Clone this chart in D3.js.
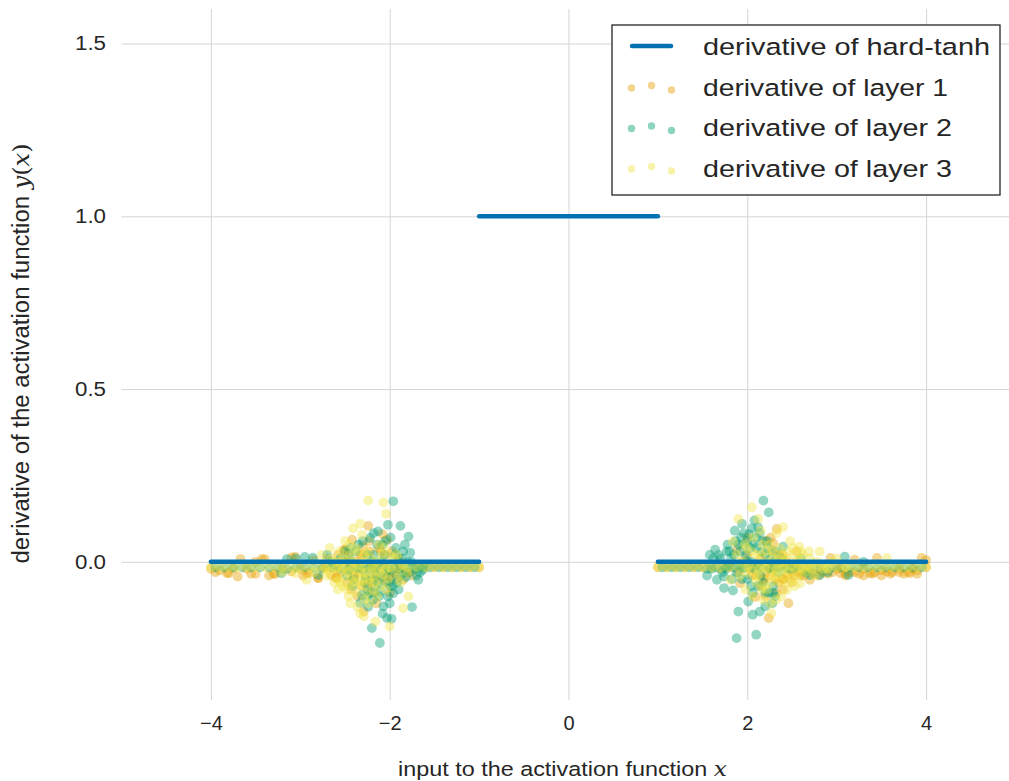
<!DOCTYPE html>
<html>
<head>
<meta charset="utf-8">
<script src="https://cdnjs.cloudflare.com/ajax/libs/d3/7.8.5/d3.min.js"></script>
<style>
  body { margin: 0; background: #fff; }
  text { fill: #262626; font-family: "Liberation Sans", Arial, sans-serif; }
</style>
</head>
<body>
<div id="chart"></div>
<script>
////////////////////////////////////////////////////////////
//////////////////////// Data //////////////////////////////
////////////////////////////////////////////////////////////

var xTicks = [-4, -2, 0, 2, 4],
    yTicks = [0.0, 0.5, 1.0, 1.5];

// hard-tanh derivative, three flat pieces
var tanhSegments = [
  [[-4, 0], [-1, 0]],
  [[-1, 1], [1, 1]],
  [[1, 0], [4, 0]]
];

// inputs sampled along the tails (layers 1 and 3)
var gridX = [-4.0,-3.9,-3.8,-3.7,-3.6,-3.5,-3.4,-3.3,-3.2,-3.1,-3.0,-2.9,-2.8,-2.7,-2.6,-2.5,
             -2.4,-2.3,-2.2,-2.1,-2.0,-1.9,-1.8,-1.7,-1.6,-1.5,-1.4,-1.3,-1.2,-1.1,-1.0,
             1.0,1.1,1.2,1.3,1.4,1.5,1.6,1.7,1.8,1.9,2.0,2.1,2.2,2.3,2.4,2.5,
             2.6,2.7,2.8,2.9,3.0,3.1,3.2,3.3,3.4,3.5,3.6,3.7,3.8,3.9,4.0];

// inputs sampled along the tails (layer 2)
var gridX2 = [-3.95,-3.85,-3.75,-3.65,-3.55,-3.45,-3.35,-3.25,-3.15,-3.05,-2.95,-2.85,-2.75,-2.65,-2.55,
              -2.45,-2.35,-2.25,-2.15,-2.05,-1.95,-1.85,-1.75,-1.65,-1.55,-1.45,-1.35,-1.25,-1.15,-1.05,
              1.05,1.15,1.25,1.35,1.45,1.55,1.65,1.75,1.85,1.95,2.05,2.15,2.25,2.35,2.45,
              2.55,2.65,2.75,2.85,2.95,3.05,3.15,3.25,3.35,3.45,3.55,3.65,3.75,3.85,3.95];

var tail1 = [-0.02,-0.025,-0.033,-0.043,-0.02,-0.035,0.008,-0.035,-0.02,0.012,-0.02,-0.033,-0.047,-0.016,-0.047,0.035,
             -0.05,0.02,-0.06,0.03,-0.04,-0.02,-0.03,-0.016,-0.016,-0.016,-0.016,-0.016,-0.016,-0.016,-0.016,
             -0.016,-0.016,-0.016,-0.016,-0.016,-0.016,-0.016,-0.02,-0.016,-0.03,0.02,-0.04,-0.05,-0.02,-0.05,-0.03,
             -0.04,-0.03,-0.02,-0.035,-0.02,-0.035,-0.03,-0.02,-0.035,-0.025,-0.035,-0.02,-0.03,-0.025,-0.016];

var tail2 = [-0.016,-0.016,-0.016,-0.016,-0.016,-0.016,-0.016,-0.016,-0.02,-0.016,-0.016,-0.016,-0.016,-0.016,-0.02,
             -0.016,-0.016,-0.016,-0.016,-0.016,-0.02,-0.016,-0.016,-0.016,-0.016,-0.016,-0.016,-0.016,-0.016,-0.016,
             -0.016,-0.016,-0.016,-0.016,-0.016,-0.02,-0.016,-0.016,-0.016,-0.016,-0.016,-0.016,-0.016,-0.016,-0.016,
             -0.016,-0.016,-0.016,-0.016,-0.016,-0.016,-0.016,-0.016,-0.016,-0.016,-0.016,-0.016,-0.016,-0.016,-0.016];

var tail3 = [-0.016,-0.016,-0.016,-0.016,-0.016,-0.016,-0.016,-0.016,-0.016,-0.016,-0.02,-0.016,-0.016,-0.016,-0.02,-0.016,
             -0.016,-0.016,-0.016,-0.016,-0.016,-0.016,-0.016,-0.016,-0.016,-0.016,-0.016,-0.016,-0.016,-0.016,-0.016,
             -0.016,-0.016,-0.016,-0.016,-0.016,-0.016,-0.016,-0.016,-0.016,-0.016,-0.016,-0.016,-0.016,-0.016,-0.016,-0.016,
             -0.016,-0.016,-0.016,-0.016,-0.016,-0.016,-0.016,-0.016,-0.016,-0.016,-0.016,-0.016,-0.016,-0.016,-0.016];

// extra samples around the transition region
var cluster1 = [[-3.67,0.008],[-3.43,0.008],[-3.82,-0.033],[-3.55,-0.035],[-3.28,-0.035],[-3.06,0.015],[-2.93,-0.033],
  [-2.80,-0.047],[-2.59,-0.047],[-2.51,0.035],[-2.58,0.02],[-2.42,0.064],[-2.24,0.104],[-2.03,0.064],[-2.15,-0.12],
  [-2.29,-0.144],[-1.85,-0.052],[-2.45,-0.02],[-2.35,-0.03],[-2.2,-0.01],[-2.1,-0.05],[-2.05,0.02],[-1.95,-0.03],
  [-2.6,-0.02],[-2.7,0.01],[-2.38,0.0],[-2.25,-0.07],[-2.12,0.04],[-1.9,0.01],[-1.75,-0.04],[-2.48,-0.06],
  [-2.0,-0.09],[-2.3,0.045],[-2.18,-0.09],
  [-2.55,-0.03],[-2.5,0.0],[-2.4,-0.04],[-2.33,0.02],[-2.27,-0.05],[-2.22,0.03],[-2.17,-0.04],[-2.07,-0.01],
  [-2.02,-0.06],[-1.97,0.03],[-1.88,-0.02],[-1.8,-0.03],[-2.65,-0.04],[-2.75,-0.02],[-2.85,0.005],[-2.97,-0.04],
  [-3.1,-0.028],[-3.35,-0.04],[-3.5,0.0],[-3.75,-0.02],[-3.95,-0.03],[-2.43,-0.08],[-2.36,-0.1],[-2.08,0.08],
  [-2.46,0.02],[-2.32,-0.07],[-2.23,0.06],[-2.14,-0.02],[-2.04,-0.04],[-1.93,-0.05],
  [2.33,0.095],[2.29,0.054],[1.88,0.035],[1.92,-0.062],[2.09,-0.102],[2.46,-0.12],[2.24,-0.163],[2.70,-0.052],
  [2.93,0.011],[3.20,0.006],[3.45,0.011],[3.95,0.011],[3.04,-0.033],[3.37,-0.033],[3.56,-0.028],[3.82,-0.033],
  [3.70,-0.03],[3.1,-0.04],[2.85,-0.03],[2.6,-0.03],[2.5,-0.01],[2.4,0.02],[2.2,-0.03],[2.15,0.01],[2.05,-0.04],
  [2.35,-0.06],[2.55,0.03],[2.0,0.07],[2.25,-0.01],[2.45,-0.04],[3.3,-0.04],[3.9,-0.035],[2.75,-0.035],[2.15,-0.07],
  [1.95,0.0],[2.03,-0.02],[2.1,-0.01],[2.18,-0.05],[2.27,-0.03],[2.31,-0.05],[2.38,-0.01],[2.43,0.0],[2.52,-0.04],
  [2.57,-0.02],[2.63,-0.04],[2.68,-0.02],[2.8,-0.04],[2.95,-0.03],[3.05,-0.02],[3.15,-0.03],[3.25,-0.035],
  [3.42,-0.03],[3.5,-0.04],[3.62,-0.03],[3.75,-0.035],[3.85,-0.02],[4.0,0.005],[2.2,0.06],[2.28,0.03],[2.4,-0.08],
  [2.26,0.07],[2.36,0.02],[2.41,-0.05],[2.5,-0.06],[2.32,-0.09],[2.2,-0.1]];

var cluster2 = [[-1.96,0.175],[-2.02,0.107],[-1.88,0.104],[-1.79,0.073],[-2.18,0.083],[-2.13,0.088],[-2.22,0.069],
  [-2.08,0.05],[-1.85,0.03],[-1.77,0.026],[-3.15,0.008],[-2.95,0.014],[-2.86,0.012],[-3.21,-0.033],[-2.80,-0.038],
  [-2.19,-0.11],[-2.07,-0.129],[-2.03,-0.163],[-1.98,-0.165],[-2.20,-0.192],[-2.11,-0.235],[-1.75,-0.131],
  [-2.0,-0.071],[-1.96,-0.091],[-2.31,-0.096],[-2.33,-0.119],[-2.46,-0.023],[-1.68,-0.052],[-1.63,-0.023],
  [-2.5,0.03],[-2.45,0.01],[-2.4,-0.05],[-2.3,-0.02],[-2.25,0.02],[-2.15,-0.04],[-2.1,0.0],[-2.05,-0.06],
  [-1.95,-0.02],[-1.9,0.0],[-1.85,-0.03],[-1.8,0.0],[-1.72,-0.02],[-2.25,-0.08],[-2.2,-0.05],[-2.12,-0.1],
  [-2.35,0.05],[-2.6,-0.01],[-2.7,0.02],[-1.98,-0.045],
  [-2.48,-0.04],[-2.42,-0.07],[-2.38,0.03],[-2.28,-0.06],[-2.26,-0.1],[-2.24,-0.13],[-2.2,0.0],[-2.17,-0.02],
  [-2.16,-0.07],[-2.14,0.05],[-2.1,-0.085],[-2.06,0.02],[-2.04,-0.03],[-2.02,-0.1],[-2.0,-0.12],[-1.99,0.07],
  [-1.93,0.04],[-1.92,-0.06],[-1.88,-0.04],[-1.83,0.05],[-1.82,-0.045],[-1.78,-0.03],[-1.76,0.0],[-1.7,-0.04],
  [-1.66,-0.03],[-1.62,-0.01],[-2.55,0.01],[-2.65,0.0],[-3.05,0.01],
  [-2.27,-0.04],[-2.23,-0.02],[-2.21,-0.09],[-2.18,0.02],[-2.13,-0.06],[-2.09,-0.04],[-2.05,0.06],[-2.01,-0.02],
  [-1.97,-0.07],[-1.94,0.02],[-1.9,-0.08],[-1.86,0.01],[-2.35,-0.02],[-2.44,0.04],[-2.3,0.06],[-2.08,-0.15],
  [2.18,0.177],[2.24,0.143],[2.05,0.097],[1.96,0.083],[2.14,0.083],[2.0,0.06],[1.90,0.05],[2.1,0.04],[1.64,0.035],
  [1.77,0.03],[2.40,0.044],[1.55,-0.04],[1.66,-0.052],[1.74,-0.043],[1.74,-0.076],[1.84,-0.083],[2.01,-0.115],
  [1.90,-0.144],[2.06,-0.153],[2.14,-0.144],[2.20,-0.129],[1.88,-0.221],[2.10,-0.211],[2.31,-0.10],[2.29,-0.071],
  [2.70,-0.038],[2.81,-0.038],[3.09,0.015],[3.13,-0.038],[1.7,0.01],[1.8,-0.01],[1.85,0.02],[1.95,-0.02],
  [2.0,-0.05],[2.05,0.0],[2.15,-0.04],[2.2,0.02],[2.25,-0.02],[2.3,0.0],[2.35,-0.03],[2.5,-0.02],[2.6,0.01],
  [1.6,-0.02],[2.29,-0.09],[2.12,-0.07],[1.93,0.07],
  [1.62,0.01],[1.68,0.02],[1.72,-0.03],[1.78,0.05],[1.82,0.01],[1.86,0.09],[1.88,-0.03],[1.92,0.03],[1.94,0.11],
  [1.98,0.02],[2.02,0.08],[2.04,-0.07],[2.07,0.05],[2.08,-0.02],[2.12,0.1],[2.16,0.03],[2.18,-0.06],[2.22,0.06],
  [2.24,-0.09],[2.26,0.01],[2.32,0.03],[2.38,0.01],[2.45,-0.02],[2.55,-0.01],[2.65,-0.03],[2.9,-0.03],[3.3,0.0],
  [1.58,0.02],[2.28,-0.12],
  [1.76,-0.02],[1.8,0.03],[1.83,-0.05],[1.87,0.06],[1.91,-0.01],[1.96,0.05],[2.0,0.0],[2.03,0.04],[2.06,-0.09],
  [2.1,0.07],[2.13,-0.01],[2.17,0.06],[2.2,-0.09],[2.23,0.04],[1.94,-0.05],[2.08,0.12]];

var cluster3 = [[-2.24,0.177],[-2.07,0.172],[-2.04,0.139],[-2.41,0.097],[-2.31,0.078],[-2.67,0.04],[-2.76,0.02],
  [-2.93,-0.052],[-2.70,-0.04],[-2.52,-0.071],[-2.46,-0.10],[-2.33,-0.149],[-2.29,-0.158],[-2.16,-0.173],
  [-2.0,-0.187],[-1.79,-0.10],[-1.85,-0.134],[-2.0,0.02],[-3.06,-0.033],[-2.6,-0.02],[-2.55,0.0],[-2.5,-0.04],
  [-2.45,0.02],[-2.4,-0.06],[-2.35,-0.01],[-2.3,-0.05],[-2.25,0.03],[-2.2,-0.03],[-2.15,0.0],[-2.1,-0.07],
  [-2.05,-0.02],[-1.95,0.01],[-1.9,-0.04],[-2.38,-0.09],[-2.28,-0.11],[-2.18,-0.08],[-2.45,0.05],[-2.62,-0.06],
  [-2.12,0.05],[-1.85,-0.01],
  [-2.72,-0.02],[-2.65,0.01],[-2.58,-0.05],[-2.56,0.03],[-2.53,-0.02],[-2.48,-0.08],[-2.47,-0.03],[-2.43,-0.05],
  [-2.4,0.0],[-2.37,-0.04],[-2.36,0.03],[-2.32,-0.07],[-2.3,0.0],[-2.27,-0.03],[-2.26,-0.09],[-2.22,-0.06],
  [-2.21,0.01],[-2.17,-0.04],[-2.14,-0.1],[-2.08,-0.04],[-2.06,0.04],[-2.02,-0.05],[-1.98,-0.02],[-1.92,0.02],
  [-1.88,-0.06],[-1.8,-0.03],[-2.5,0.06],[-2.33,0.11],[-2.85,-0.03],[-3.2,-0.03],
  [-2.58,-0.08],[-2.55,-0.06],[-2.52,0.01],[-2.44,-0.07],[-2.42,-0.02],[-2.39,0.04],[-2.34,-0.06],[-2.31,-0.03],
  [-2.29,0.02],[-2.24,-0.05],[-2.23,-0.12],[-2.19,-0.01],[-2.16,-0.06],[-2.11,-0.03],[-2.09,0.02],[-2.04,-0.08],
  [-2.62,0.0],[-2.68,-0.03],[-2.44,-0.12],[-2.36,-0.13],
  [2.05,0.158],[1.90,0.124],[2.12,0.124],[1.84,0.059],[2.33,0.083],[2.58,0.044],[2.81,0.03],[3.56,0.011],
  [2.27,-0.149],[2.18,-0.11],[1.81,-0.052],[2.44,-0.081],[2.59,-0.062],[1.95,0.0],[2.0,-0.03],[2.05,0.03],
  [2.1,-0.06],[2.15,0.02],[2.2,-0.02],[2.25,0.05],[2.3,-0.04],[2.35,0.01],[2.4,-0.02],[2.45,0.03],[2.5,-0.05],
  [2.55,0.0],[2.65,-0.03],[2.7,0.01],[2.9,-0.02],[3.0,0.01],[2.38,-0.1],[2.22,-0.08],[2.62,0.02],[1.98,-0.08],
  [2.48,0.06],[2.75,-0.04],
  [1.88,0.02],[1.92,-0.04],[1.97,0.05],[2.02,-0.01],[2.07,0.07],[2.08,-0.04],[2.13,-0.02],[2.17,0.05],[2.19,-0.07],
  [2.23,0.0],[2.27,-0.06],[2.28,0.03],[2.32,-0.02],[2.36,0.04],[2.37,-0.06],[2.42,0.0],[2.47,-0.03],[2.52,0.02],
  [2.53,-0.07],[2.57,-0.02],[2.6,0.03],[2.67,-0.01],[2.72,-0.02],[2.78,0.0],[2.85,-0.02],[2.95,0.0],[3.1,-0.015],
  [2.4,0.1],[2.15,0.09],[2.32,-0.11],
  [2.12,-0.04],[2.16,-0.08],[2.21,0.03],[2.25,-0.04],[2.29,0.01],[2.34,-0.04],[2.39,0.02],[2.41,-0.04],[2.44,0.01],
  [2.49,-0.01],[2.51,0.04],[2.56,-0.04],[2.62,-0.02],[2.69,0.03],[2.06,-0.1],[2.26,-0.12],[2.46,-0.06],[2.1,0.02],
  [1.99,0.04],[2.58,0.01]];

var seriesNames = ["derivative of hard-tanh", "derivative of layer 1",
                   "derivative of layer 2", "derivative of layer 3"],
    colors = ["#0072B2", "#E69F00", "#009E73", "#F0E442"];

////////////////////////////////////////////////////////////
//////////////////////// Set-Up ////////////////////////////
////////////////////////////////////////////////////////////

var width = 1009, height = 781;

var x = d3.scaleLinear().domain([-5, 5]).range([121.5, 1015.5]),
    y = d3.scaleLinear().domain([-0.4, 1.6]).range([700, 9]);

var svg = d3.select("#chart").append("svg")
    .attr("width", width)
    .attr("height", height);

////////////////////////////////////////////////////////////
//////////////////////// Grid //////////////////////////////
////////////////////////////////////////////////////////////

svg.append("g")
  .attr("transform", "translate(0," + y.range()[0] + ")")
  .call(d3.axisBottom(x).tickValues(xTicks).tickSize(-(y.range()[0] - y.range()[1]))
        .tickPadding(16).tickFormat(function(d) { return d < 0 ? "\u2212" + Math.abs(d) : d; }))
  .call(function(g) {
    g.select(".domain").remove();
    g.selectAll("line").attr("stroke", "#d5d5d5").attr("stroke-width", 1);
    g.selectAll("text").style("font-size", "20px").attr("fill", "#262626");
  });

svg.append("g")
  .attr("transform", "translate(" + x.range()[0] + ",0)")
  .call(d3.axisLeft(y).tickValues(yTicks).tickSize(-(width - x.range()[0] + 10))
        .tickPadding(15.5).tickFormat(d3.format(".1f")))
  .call(function(g) {
    g.select(".domain").remove();
    g.selectAll("line").attr("stroke", "#d5d5d5").attr("stroke-width", 1);
    g.selectAll("text").style("font-size", "19.5px").attr("fill", "#262626")
      .attr("textLength", 31).attr("lengthAdjust", "spacingAndGlyphs");
  });

////////////////////////////////////////////////////////////
//////////////////////// Points ////////////////////////////
////////////////////////////////////////////////////////////

function layerPoints(grid, tail, cluster) {
  var pts = grid.map(function(d, i) { return [d, tail[i]]; });
  return pts.concat(cluster);
}

var layers = [layerPoints(gridX, tail1, cluster1),
              layerPoints(gridX2, tail2, cluster2),
              layerPoints(gridX, tail3, cluster3)];

layers.forEach(function(pts, k) {
  svg.append("g")
    .selectAll("circle")
    .data(pts)
    .enter().append("circle")
    .attr("cx", function(d) { return x(d[0]); })
    .attr("cy", function(d) { return y(d[1]); })
    .attr("r", 4.9)
    .style("fill", colors[k + 1])
    .style("fill-opacity", 0.42);
});

////////////////////////////////////////////////////////////
//////////////////////// Line //////////////////////////////
////////////////////////////////////////////////////////////

var line = d3.line()
  .x(function(d) { return x(d[0]); })
  .y(function(d) { return y(d[1]); });

svg.append("g")
  .selectAll("path")
  .data(tanhSegments)
  .enter().append("path")
  .attr("d", line)
  .attr("fill", "none")
  .attr("stroke", colors[0])
  .attr("stroke-width", 4.5)
  .attr("stroke-linecap", "round");

////////////////////////////////////////////////////////////
//////////////////////// Labels ////////////////////////////
////////////////////////////////////////////////////////////

var xLabel = svg.append("text")
  .attr("x", 562.5)
  .attr("y", 776)
  .attr("textLength", 329)
  .attr("lengthAdjust", "spacingAndGlyphs")
  .style("font-size", "20.5px")
  .style("text-anchor", "middle");
xLabel.append("tspan").text("input to the activation function ");
xLabel.append("tspan").style("font-family", "'DejaVu Serif', serif").style("font-style", "italic").text("x");

var yLabel = svg.append("text")
  .attr("transform", "translate(28.5," + ((y.range()[0] + y.range()[1]) / 2 - 1) + ") rotate(-90)")
  .attr("textLength", 420)
  .attr("lengthAdjust", "spacingAndGlyphs")
  .style("font-size", "23px")
  .style("text-anchor", "middle");
yLabel.append("tspan").text("derivative of the activation function ");
yLabel.append("tspan").style("font-family", "'DejaVu Serif', serif").style("font-style", "italic").text("y");
yLabel.append("tspan").style("font-family", "'DejaVu Serif', serif").text("(");
yLabel.append("tspan").style("font-family", "'DejaVu Serif', serif").style("font-style", "italic").text("x");
yLabel.append("tspan").style("font-family", "'DejaVu Serif', serif").text(")");

////////////////////////////////////////////////////////////
//////////////////////// Legend ////////////////////////////
////////////////////////////////////////////////////////////

var legend = svg.append("g").attr("transform", "translate(612,25)");

legend.append("rect")
  .attr("width", 388)
  .attr("height", 170)
  .attr("fill", "#fff")
  .attr("stroke", "#262626")
  .attr("stroke-width", 1.3);

var rowY = [21, 62, 102.5, 143],
    dotX = [19.5, 39.5, 59.5],
    dotDy = [1, -1.5, 3],
    textW = [287, 245, 249, 249];

legend.append("line")
  .attr("x1", 20).attr("x2", 59)
  .attr("y1", rowY[0]).attr("y2", rowY[0])
  .attr("stroke", colors[0])
  .attr("stroke-width", 4.5)
  .attr("stroke-linecap", "round");

[1, 2, 3].forEach(function(k) {
  legend.selectAll("circle.l" + k)
    .data(dotX)
    .enter().append("circle")
    .attr("cx", function(d) { return d; })
    .attr("cy", function(d, i) { return rowY[k] + dotDy[i]; })
    .attr("r", 3.7)
    .style("fill", colors[k])
    .style("fill-opacity", 0.45);
});

legend.selectAll("text")
  .data(seriesNames)
  .enter().append("text")
  .attr("x", 91)
  .attr("y", function(d, i) { return rowY[i]; })
  .attr("dy", "0.36em")
  .attr("textLength", function(d, i) { return textW[i]; })
  .attr("lengthAdjust", "spacingAndGlyphs")
  .style("font-size", "24.5px")
  .text(function(d) { return d; });
</script>
</body>
</html>
